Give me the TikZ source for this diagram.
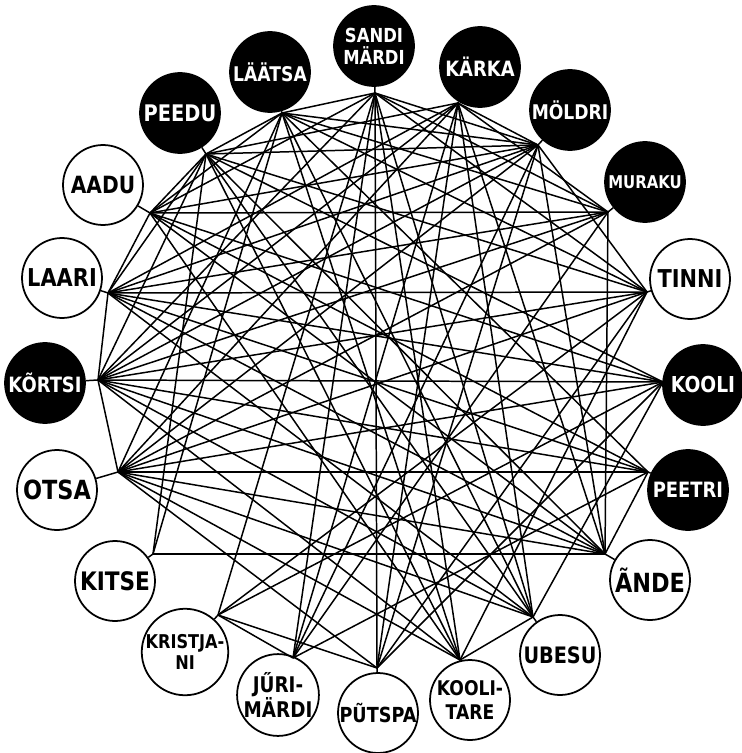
\documentclass[tikz,border=0pt]{standalone}
\usepackage{fontspec}
\setmainfont{DejaVu Sans}[FakeStretch=0.85]
\usetikzlibrary{positioning}
\newcommand{\lettersize}[1]{\fontsize{#1}{1.15\dimexpr#1pt\relax}\selectfont\bfseries}

\begin{document}
\begin{tikzpicture}
[x=0.02cm,y=-0.02cm,
farm/.style={circle,draw=black,line width=1pt,inner sep=0pt,minimum size=1.6cm,align=center},
dark/.style={farm,fill=black,text=white},
light/.style={farm,fill=white},
tie/.style={line width=0.85pt}]
\useasboundingbox (0,0) rectangle (741,753);

% farms
\node[dark,font=\lettersize{11}] (sandi) at (374,46) {SANDI\\MÄRDI};
\node[dark,font=\lettersize{11.5}] (laatsa) at (270,72) {LÄÄTSA};
\node[dark,font=\lettersize{12}] (karka) at (480,67) {KÄRKA};
\node[dark,font=\lettersize{13}] (peedu) at (180,113) {PEEDU};
\node[dark,font=\lettersize{11.5}] (moldri) at (570,110) {MÖLDRI};
\node[light,font=\lettersize{13.5}] (aadu) at (103,185) {AADU};
\node[dark,font=\lettersize{10}] (muraku) at (645,182) {MURAKU};
\node[light,font=\lettersize{14}] (laari) at (62,278) {LAARI};
\node[light,font=\lettersize{14}] (tinni) at (690,279) {TINNI};
\node[dark,font=\lettersize{12}] (kortsi) at (45,383) {KÕRTSI};
\node[dark,font=\lettersize{12.5}] (kooli) at (703,385) {KOOLI};
\node[light,font=\lettersize{15}] (otsa) at (57,490) {OTSA};
\node[dark,font=\lettersize{12}] (peetri) at (688,490) {PEETRI};
\node[light,font=\lettersize{14.5}] (kitse) at (115,581) {KITSE};
\node[light,font=\lettersize{15}] (ande) at (650,580) {ÃNDE};
\node[light,font=\lettersize{10.8}] (kristjani) at (185,652) {KRISTJA-\\NI};
\node[light,font=\lettersize{12.9}] (ubesu) at (560,655) {UBESU};
\node[light,font=\lettersize{12.3}] (jyri) at (278,695) {JŰRI-\\MÄRDI};
\node[light,font=\lettersize{11.8}] (putspa) at (378,713) {PŨTSPA};
\node[light,font=\lettersize{11.5}] (koolitare) at (470,700) {KOOLI-\\TARE};

% meeting points of the ties
\coordinate (s) at (375,93);
\coordinate (la) at (282,113);
\coordinate (ka) at (458,103);
\coordinate (pe) at (206,154);
\coordinate (mo) at (538,145);
\coordinate (aa) at (150,213);
\coordinate (mu) at (608,212);
\coordinate (lr) at (108,293);
\coordinate (ti) at (647,292);
\coordinate (ko) at (98,380);
\coordinate (kl) at (663,382);
\coordinate (ot) at (118,472);
\coordinate (pt) at (648,472);
\coordinate (ki) at (153,554);
\coordinate (an) at (605,554);
\coordinate (kr) at (218,615);
\coordinate (ub) at (533,617);
\coordinate (ju) at (293,658);
\coordinate (pu) at (377,668);
\coordinate (kt) at (460,660);

\draw[tie] (sandi) -- (s);
\draw[tie] (laatsa) -- (la);
\draw[tie] (karka) -- (ka);
\draw[tie] (peedu) -- (pe);
\draw[tie] (moldri) -- (mo);
\draw[tie] (aadu) -- (aa);
\draw[tie] (muraku) -- (mu);
\draw[tie] (laari) -- (lr);
\draw[tie] (tinni) -- (ti);
\draw[tie] (kortsi) -- (ko);
\draw[tie] (kooli) -- (kl);
\draw[tie] (otsa) -- (ot);
\draw[tie] (peetri) -- (pt);
\draw[tie] (kitse) -- (ki);
\draw[tie] (ande) -- (an);
\draw[tie] (kristjani) -- (kr);
\draw[tie] (ubesu) -- (ub);
\draw[tie] (jyri) -- (ju);
\draw[tie] (putspa) -- (pu);
\draw[tie] (koolitare) -- (kt);

% ties
\foreach \a/\b in {s/pu,s/la,s/aa,s/ko,s/kr,s/ju,s/kt,s/ub,s/mo,s/mu,s/ti,
  la/pe,la/aa,la/mo,la/mu,la/ot,la/ki,la/kt,la/ub,la/pt,la/ti,
  ka/pe,ka/lr,ka/ko,ka/mo,ka/ju,ka/pu,ka/ub,ka/an,ka/mu,ka/ot,
  pe/aa,pe/lr,pe/ko,pe/ti,pe/kl,pe/an,pe/ub,pe/kt,pe/mo,pe/ki,
  mo/aa,mo/lr,mo/ko,mo/ot,mo/ju,mo/pu,mo/an,mo/ti,
  aa/mu,aa/kl,aa/pt,aa/an,aa/kt,aa/lr,
  mu/lr,mu/ko,mu/ot,mu/ju,mu/an,
  lr/ti,lr/pt,lr/an,lr/ub,lr/ko,lr/kl,
  ti/ko,ti/ot,ti/kr,ti/pu,ti/kt,
  ko/kl,ko/pt,ko/an,ko/ub,ko/kt,ko/ot,
  kl/ot,kl/kr,kl/pu,kl/ub,
  ot/pt,ot/an,ot/ub,ot/pu,ot/kt,
  pt/ju,pt/an,
  ki/an,kr/ju,kr/pu,ub/kt}
  \draw[tie] (\a) -- (\b);
\end{tikzpicture}
\end{document}
